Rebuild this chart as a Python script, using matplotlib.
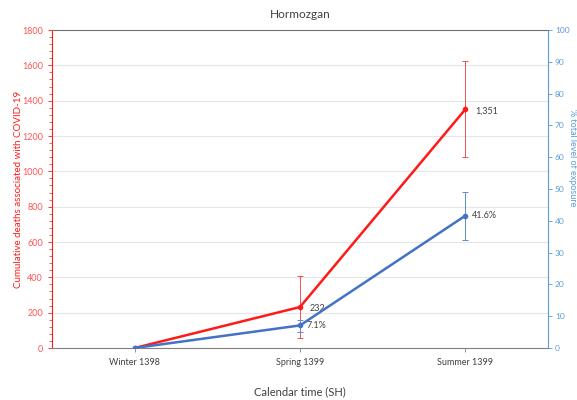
import matplotlib.pyplot as plt
from matplotlib.ticker import MultipleLocator

plt.rcParams['font.family'] = ['Lato', 'DejaVu Sans']

# Data
seasons = ['Winter 1398', 'Spring 1399', 'Summer 1399']
deaths = [0, 232, 1351]
deaths_low = [0, 58, 1082]
deaths_high = [0, 405, 1624]
exposure = [0, 7.1, 41.6]
exposure_low = [0, 5.1, 34.0]
exposure_high = [0, 8.8, 49.2]
death_labels = ['', '232', '1,351']
exposure_labels = ['', '7.1%', '41.6%']

red = '#FF1A1A'
blue = '#4472C4'
blue_axis = '#5B9BD5'

fig = plt.figure(figsize=(5.77, 4.0), dpi=100)
ax = fig.add_axes([52 / 577, 1 - 348 / 400, 496 / 577, 318 / 400])
ax2 = ax.twinx()

x = list(range(len(seasons)))

# Deaths series (left axis)
d_err = [[d - lo for d, lo in zip(deaths, deaths_low)],
         [hi - d for d, hi in zip(deaths, deaths_high)]]
ax.errorbar(x[1:], deaths[1:], yerr=[d_err[0][1:], d_err[1][1:]], fmt='none',
            ecolor='#F25050', elinewidth=0.7, capsize=2, capthick=0.7, zorder=3)
ax.plot(x, deaths, color=red, lw=1.8, marker='o', ms=3, zorder=4)
for xi, yi, lab in zip(x, deaths, death_labels):
    if lab:
        ax.annotate(lab, (xi, yi), xytext=(7, -1), textcoords='offset points',
                    fontsize=6.5, color='#404040', va='center')

# Exposure series (right axis)
e_err = [[e - lo for e, lo in zip(exposure, exposure_low)],
         [hi - e for e, hi in zip(exposure, exposure_high)]]
ax2.errorbar(x[1:], exposure[1:], yerr=[e_err[0][1:], e_err[1][1:]], fmt='none',
             ecolor='#5F8AD0', elinewidth=0.7, capsize=2, capthick=0.7, zorder=3)
ax2.plot(x, exposure, color=blue, lw=1.8, marker='o', ms=3, zorder=4)
for xi, yi, lab in zip(x, exposure, exposure_labels):
    if lab:
        ax2.annotate(lab, (xi, yi), xytext=(5, 0), textcoords='offset points',
                     fontsize=6.5, color='#404040', va='center')

# Left axis
ax.set_xlim(-0.5, 2.5)
ax.set_ylim(0, 1800)
ax.yaxis.set_major_locator(MultipleLocator(200))
ax.yaxis.set_minor_locator(MultipleLocator(40))
ax.grid(axis='y', color='#E6E6E6', lw=0.8)
ax.set_axisbelow(True)
ax.set_xticks(x)
ax.set_xticklabels(seasons, fontsize=6.5, color='#404040')
ax.tick_params(axis='x', length=3, width=0.6, color='#808080', pad=4)
ax.tick_params(axis='y', which='major', length=3, width=0.6, colors=red,
               labelsize=6.5, labelcolor='#FF5555', direction='out')
ax.tick_params(axis='y', which='minor', length=2, width=0.5, color=red)
ax.spines['left'].set_color(red)
ax.spines['bottom'].set_color('#808080')
ax.spines['top'].set_color('#707070')
ax.spines['right'].set_visible(False)
ax.set_ylabel('Cumulative deaths associated with COVID-19', color=red,
              fontsize=7, va='center', ha='center')
ax.yaxis.set_label_coords(-0.068, 0.5)
ax.set_xlabel('Calendar time (SH)', fontsize=8, color='#404040', labelpad=14)
ax.set_title('Hormozgan', fontsize=8.5, color='#404040', pad=9)

# Right axis
ax2.set_ylim(0, 100)
ax2.yaxis.set_major_locator(MultipleLocator(10))
ax2.tick_params(axis='y', length=3, width=0.6, colors=blue_axis,
                labelsize=6, labelcolor=blue_axis, pad=2)
ax2.spines['right'].set_color(blue_axis)
for s in ['left', 'top', 'bottom']:
    ax2.spines[s].set_visible(False)
ax2.set_ylabel('% total level of exposure', color=blue_axis, fontsize=6.5,
               rotation=270, va='center', ha='center')
ax2.yaxis.set_label_coords(1.0495, 0.6)

fig.savefig('out.png', dpi=100)
